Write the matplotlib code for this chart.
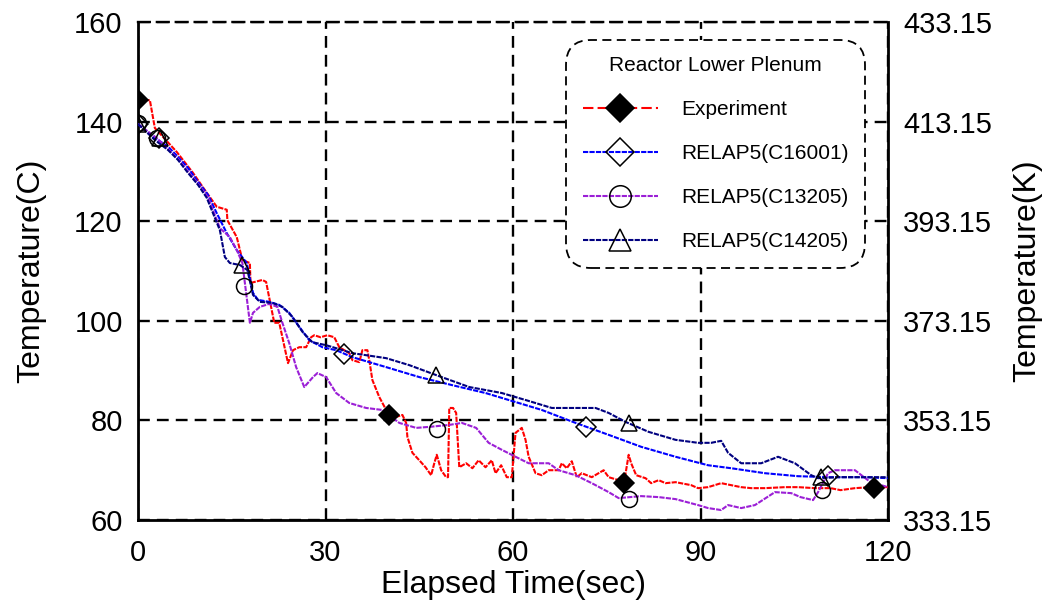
import matplotlib
matplotlib.use('Agg')
import matplotlib.pyplot as plt
from matplotlib.lines import Line2D

plt.rcParams['font.family'] = ['Liberation Sans', 'DejaVu Sans']

# Experiment (red)
exp_t = [0, 1.9, 2.7, 6.2, 8.8, 11.0, 12.6, 14.2, 14.3, 15.8, 16.7, 17.9, 18.0, 19.9, 20.5, 20.7,
         21.8, 22.6, 24.0, 24.8, 25.8, 26.9, 27.7, 28.2, 29.2, 30.3, 31.4, 32.2, 33.8, 34.3, 35.4,
         35.9, 36.7, 37.0, 37.5, 38.6, 39.7, 41.3, 42.3, 42.9, 43.1, 43.9, 45.0, 46.0, 46.9, 47.4,
         47.8, 48.5, 49.3, 49.6, 49.8, 50.4, 50.9, 51.4, 52.5, 53.5, 54.5, 55.6, 56.6, 57.2, 58.1,
         59.0, 59.8, 60.4, 61.4, 62.0, 62.5, 63.6, 64.6, 65.7, 67.3, 67.8, 68.6, 69.4, 70.2, 71.0,
         72.6, 74.5, 75.3, 76.9, 77.8, 78.5, 78.9, 79.7, 81.2, 82.1, 83.3, 84.4, 86.0, 88.5, 89.6,
         91.2, 93.3, 94.9, 96.5, 98.1, 100.3, 103.5, 105.6, 108.3, 110.8, 112.4, 114.7, 117.2, 120]
exp_T = [144.3, 144.3, 138.7, 133.9, 129.7, 125.7, 122.9, 122.3, 120.2, 116.8, 112.2, 111.6, 107.6,
         108.2, 107.8, 106.5, 99.6, 99.6, 91.5, 94.1, 94.7, 94.7, 96.7, 97.1, 96.7, 97.1, 96.7, 94.7,
         93.5, 92.1, 91.7, 94.1, 94.1, 92.1, 88.1, 84.7, 82.1, 80.7, 81.1, 79.5, 76.7, 73.5, 72.0,
         70.6, 69.0, 71.4, 73.1, 70.0, 68.6, 68.6, 82.5, 82.5, 81.5, 70.6, 71.4, 70.4, 72.0, 70.6,
         72.0, 69.4, 71.0, 68.6, 68.6, 77.5, 78.5, 76.1, 72.7, 69.4, 69.0, 70.0, 70.0, 71.4, 70.4,
         71.8, 68.6, 69.4, 68.6, 70.0, 68.6, 68.0, 67.8, 73.1, 71.4, 69.0, 68.4, 67.4, 68.0, 67.4,
         67.6, 67.0, 66.4, 66.6, 67.4, 67.0, 66.6, 66.4, 66.4, 66.6, 66.6, 66.4, 66.4, 66.0, 66.4,
         66.6, 66.6]

# RELAP5 C16001 (blue)
c16_t = [0, 2.7, 4.8, 6.4, 8.0, 9.6, 11.2, 12.6, 14.2, 15.8, 17.4, 18.4, 19.2, 21.0, 22.6, 24.2,
         25.8, 27.4, 29.5, 31.7, 34.3, 39.7, 45.0, 50.2, 55.6, 60.9, 64.6, 70.0, 75.3, 80.5, 86.0,
         91.2, 94.9, 100.3, 105.6, 110.8, 116.3, 120]
c16_T = [139.5, 136.7, 135.0, 132.9, 130.7, 127.9, 125.3, 121.6, 117.6, 114.2, 111.6, 105.6, 104.2,
         103.8, 103.2, 101.6, 98.8, 96.1, 94.7, 94.1, 92.7, 90.7, 88.7, 87.1, 85.5, 83.5, 82.1, 79.5,
         77.1, 74.7, 72.7, 71.0, 70.4, 69.4, 68.8, 68.6, 68.6, 68.4]

# RELAP5 C13205 (purple)
c13_t = [0, 3.0, 6.4, 9.6, 11.2, 13.1, 14.7, 15.8, 16.7, 17.9, 18.4, 19.5, 21.0, 22.3, 23.1, 24.2,
         25.3, 26.6, 28.0, 28.7, 30.1, 31.7, 33.8, 36.5, 39.1, 41.8, 44.5, 46.6, 49.8, 51.8, 54.1,
         56.1, 58.2, 60.4, 62.5, 65.7, 67.3, 70.0, 72.6, 75.3, 76.9, 80.5, 83.3, 86.0, 89.6, 91.2,
         93.3, 94.4, 96.5, 98.7, 101.9, 104.5, 106.0, 108.0, 108.8, 110.4, 111.5, 114.7, 117.2, 120]
c13_T = [139.5, 136.7, 132.5, 127.5, 124.8, 118.6, 116.8, 114.2, 111.6, 99.6, 101.6, 102.8, 103.4,
         102.8, 99.6, 95.5, 90.7, 86.7, 88.7, 89.5, 88.7, 85.5, 83.5, 82.5, 82.1, 79.5, 78.5, 78.7,
         79.1, 79.5, 78.5, 75.5, 74.1, 72.7, 71.4, 71.4, 70.0, 69.0, 67.4, 65.6, 64.4, 64.8, 64.6,
         64.2, 63.0, 62.4, 62.0, 63.0, 62.4, 63.0, 65.6, 65.4, 64.6, 64.0, 65.6, 69.4, 70.0, 70.0,
         67.6, 66.6]

# RELAP5 C14205 (navy)
c14_t = [0, 2.7, 4.8, 6.4, 8.0, 9.6, 11.0, 12.0, 13.1, 13.9, 14.7, 16.3, 17.5, 18.4, 19.5, 21.5,
         23.1, 24.7, 26.3, 27.9, 30.1, 31.7, 34.3, 39.7, 43.4, 47.7, 53.0, 58.2, 60.9, 62.0, 66.2,
         73.2, 75.3, 78.0, 81.7, 86.0, 89.6, 91.7, 93.3, 94.4, 96.5, 99.7, 102.4, 105.1, 107.7,
         108.8, 112.0, 116.0, 120]
c14_T = [139.5, 136.3, 134.3, 132.3, 129.7, 127.3, 124.7, 121.6, 118.2, 112.8, 111.6, 111.2, 110.2,
         105.2, 103.8, 103.6, 102.8, 100.8, 97.8, 95.7, 95.1, 94.5, 93.5, 92.5, 91.1, 89.1, 86.7,
         85.5, 84.5, 84.1, 82.5, 82.5, 81.5, 79.7, 77.7, 76.1, 75.5, 75.5, 75.9, 73.5, 71.4, 71.4,
         72.7, 71.4, 69.0, 68.4, 68.6, 68.6, 68.6]

# sparse symbols
exp_mt = [0, 40.2, 77.8, 117.7]
exp_mv = [144.3, 81.1, 67.4, 66.4]
c16_mt = [0, 3.3, 33.0, 71.6, 110.4]
c16_mv = [139.5, 136.7, 93.3, 78.7, 68.8]
c13_mt = [0, 3.0, 16.9, 47.8, 78.6, 109.4]
c13_mv = [139.7, 136.7, 107.0, 78.3, 64.2, 66.0]
c14_mt = [0, 3.5, 16.7, 47.7, 78.6, 109.3]
c14_mv = [139.5, 136.7, 111.2, 89.1, 79.5, 68.6]

labels = ['Experiment', 'RELAP5(C16001)', 'RELAP5(C13205)', 'RELAP5(C14205)']
colors = ['#ff0000', '#0000ff', '#9b1fd6', '#000080']
markers = ['D', 'D', 'o', '^']
msizes = [10.5, 10.5, 11.5, 11.5]
mfaces = ['black', 'none', 'none', 'none']

fig = plt.figure(figsize=(10.47, 6.1), dpi=100)
ax = fig.add_axes([0.1318, 0.1475, 0.7164, 0.8165])

series = [(exp_t, exp_T, exp_mt, exp_mv), (c16_t, c16_T, c16_mt, c16_mv),
          (c13_t, c13_T, c13_mt, c13_mv), (c14_t, c14_T, c14_mt, c14_mv)]
ls = (0, (2.5, 0.6))
for i, (t, T, mt, mv) in enumerate(series):
    ax.plot(t, T, color=colors[i], lw=1.5, linestyle=ls, zorder=3)
for i, (t, T, mt, mv) in enumerate(series):
    ax.plot(mt, mv, linestyle='none', marker=markers[i], markersize=msizes[i],
            markerfacecolor=mfaces[i], markeredgecolor='black', markeredgewidth=1.1, zorder=4)

ax.set_xlim(0, 120)
ax.set_ylim(60, 160)
ax.set_xticks([0, 30, 60, 90, 120])
ax.set_yticks([60, 80, 100, 120, 140, 160])
ax.grid(True, color='black', linestyle=(0, (5, 3)), lw=1.7)
ax.tick_params(length=0, labelsize=21, pad=11)
ax.tick_params(axis='x', pad=14)
for s in ['left', 'right', 'bottom']:
    ax.spines[s].set_linewidth(2)
ax.spines['top'].set_linewidth(1.7)
ax.spines['top'].set_linestyle((0, (5, 3)))
ax.set_xlabel('Elapsed Time(sec)', fontsize=23, labelpad=2)
ax.set_ylabel('Temperature(C)', fontsize=23, labelpad=20)

ax2 = ax.twinx()
ax2.set_ylim(60 + 273.15, 160 + 273.15)
kt = [v + 273.15 for v in [60, 80, 100, 120, 140, 160]]
ax2.set_yticks(kt)
ax2.set_yticklabels(['%.2f' % v for v in kt])
ax2.tick_params(length=0, labelsize=21, pad=11)
for s in ax2.spines.values():
    s.set_visible(False)
ax2.set_ylabel('Temperature(K)', fontsize=23, labelpad=14)

handles = []
for i in range(4):
    handles.append(Line2D([], [], color=colors[i], lw=1.5,
                          linestyle=(0, (5, 2)) if i == 0 else ls,
                          marker=markers[i], markersize=msizes[i] * 1.35,
                          markerfacecolor=mfaces[i], markeredgecolor='black',
                          markeredgewidth=1.1))
leg = ax.legend(handles, labels, title='Reactor Lower Plenum', fontsize=15,
                title_fontsize=15, loc='upper right', bbox_to_anchor=(0.961, 0.952),
                handlelength=3.6, handletextpad=1.1, labelspacing=1.2,
                borderpad=0.5, fancybox=True, framealpha=1, borderaxespad=0)
leg.get_frame().set_edgecolor('black')
leg.get_frame().set_linestyle((0, (5, 3)))
leg.get_frame().set_linewidth(1.3)
leg.get_frame().set_boxstyle('round', pad=0.3, rounding_size=1.2)
leg.set_zorder(10)

fig.savefig('out.png', dpi=100)
